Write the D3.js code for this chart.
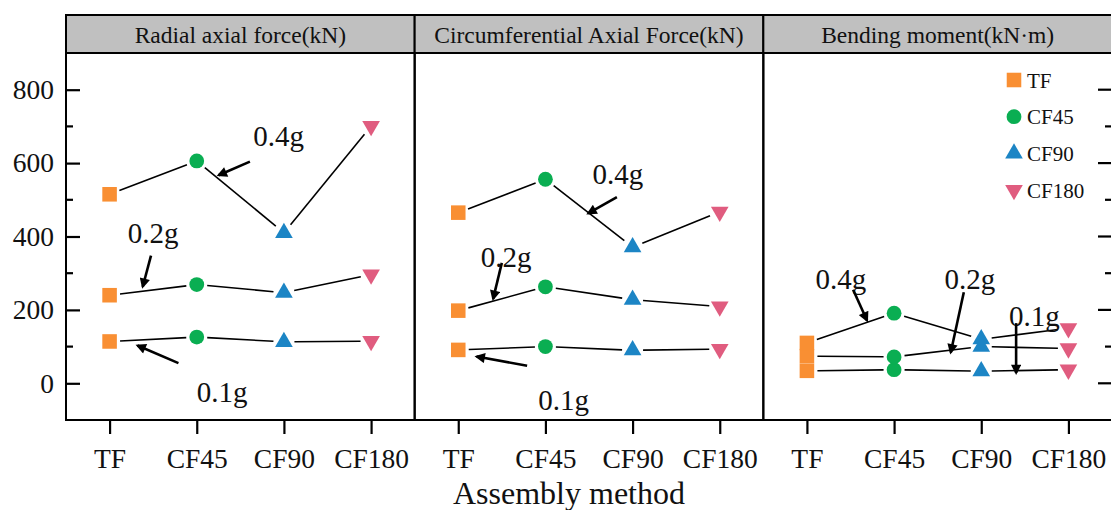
<!DOCTYPE html>
<html><head><meta charset="utf-8">
<script src="https://cdn.jsdelivr.net/npm/d3@7"></script>
<style>body{margin:0;background:#fff}svg{display:block}text{font-family:"Liberation Serif","Times New Roman",serif;fill:#111}</style>
</head><body><svg id="c" width="1111" height="510"></svg>
<script>
const categories = ["TF","CF45","CF90","CF180"];
const panelTitles = ["Radial axial force(kN)","Circumferential Axial Force(kN)","Bending moment(kN\u00b7m)"];
const levels = ["0.1g","0.2g","0.4g"];
const radial01 = [114,126,113,115];
const radial02 = [240,269,247,296];
const radial04 = [515,606,410,701];
const circ01 = [91,100,90,93];
const circ02 = [198,263,228,209];
const circ04 = [465,556,371,467];
const bend01 = [34,37,33,37];
const bend02 = [74,72,100,95];
const bend04 = [110,191,120,150];
const yTicks = [0,200,400,600,800];
const yMinorTicks = [100,300,500,700];
const yDomain = [-100,900];
const colors = ["#F98F33","#0AAE52","#1C85C5","#E05C7F"];
// annotations: [panel, label, textIdx, textVal, tailIdx, tailVal, headIdx, headVal]
const annotations = [
  [0,"0.4g",1.94,646,1.61,604,1.25,567],
  [0,"0.2g",0.50,381,0.475,348,0.38,263],
  [0,"0.1g",1.29,-51,0.79,55,0.32,103],
  [1,"0.4g",1.83,542,1.82,507,1.49,463],
  [1,"0.2g",0.55,318,0.50,328,0.40,230],
  [1,"0.1g",1.21,-73,0.79,48,0.21,73],
  [2,"0.4g",0.39,257,0.53,255,0.69,171],
  [2,"0.2g",1.87,258,1.80,248,1.65,84],
  [2,"0.1g",2.61,157,2.40,164,2.40,28]
];
const panelData = [
  [radial01,radial02,radial04],
  [circ01,circ02,circ04],
  [bend01,bend02,bend04]
];

(function(){
const svg = d3.select("#c");
const mLeft = 66, mRight = 1112, mTop = 53, mBottom = 420, headTop = 15;
const pw = (mRight-mLeft)/3;
const y = d3.scaleLinear().domain(yDomain).range([mBottom, mTop]);
const FONT = '"Liberation Serif","Times New Roman",serif';

svg.append("defs").append("marker").attr("id","ah").attr("viewBox","0 0 10 10")
  .attr("refX",8).attr("refY",5).attr("markerWidth",5).attr("markerHeight",4)
  .attr("markerUnits","strokeWidth").attr("orient","auto")
  .append("path").attr("d","M0,0 L10,5 L0,10 Z").attr("fill","#000");

const symTypes = [d3.symbolSquare, d3.symbolCircle, d3.symbolTriangle, d3.symbolTriangle];
const symSizes = [212, 172, 135, 135];
function drawSym(g, ci, cx, cy) {
  g.append("path")
    .attr("d", d3.symbol().type(symTypes[ci]).size(symSizes[ci])())
    .attr("transform", `translate(${cx},${cy})` + (ci===3 ? " rotate(180)" : ""))
    .attr("fill", colors[ci]);
}

panelTitles.forEach((title, p) => {
  const L = mLeft + p*pw;
  const x = d3.scaleLinear().domain([-0.5, 3.5]).range([L, L+pw]);
  const g = svg.append("g");
  g.append("rect").attr("x",L).attr("y",headTop).attr("width",pw).attr("height",mTop-headTop)
    .attr("fill","#c0c0c0").attr("stroke","#000").attr("stroke-width",2);
  g.append("text").attr("x",L+pw/2).attr("y",43).attr("text-anchor","middle")
    .attr("font-size",23.5).text(title);
  g.append("rect").attr("x",L).attr("y",mTop).attr("width",pw).attr("height",mBottom-mTop)
    .attr("fill","none").attr("stroke","#000").attr("stroke-width",2);
  const xa = d3.axisBottom(x).tickValues(d3.range(categories.length))
    .tickFormat(i => categories[i]).tickSize(14).tickSizeOuter(0);
  const ax = g.append("g").attr("transform",`translate(0,${mBottom})`).call(xa);
  ax.select(".domain").remove();
  ax.selectAll("line").attr("stroke","#000").attr("stroke-width",2.2);
  ax.selectAll("text").attr("font-size",27.5).attr("dy",null).attr("y",48)
    .attr("font-family",FONT).attr("fill","#111");

  panelData[p].forEach(vals => {
    for (let i=0;i<vals.length-1;i++){
      const x1=x(i), y1=y(vals[i]), x2=x(i+1), y2=y(vals[i+1]);
      const dx=x2-x1, dy=y2-y1, len=Math.hypot(dx,dy), s=10.5;
      g.append("line").attr("x1",x1+dx/len*s).attr("y1",y1+dy/len*s)
        .attr("x2",x2-dx/len*s).attr("y2",y2-dy/len*s)
        .attr("stroke","#000").attr("stroke-width",1.6);
    }
  });
  panelData[p].forEach(vals => {
    vals.forEach((v,i) => drawSym(g, i, x(i), y(v)));
  });
  annotations.filter(a => a[0]===p).forEach(a => {
    g.append("text").attr("x",x(a[2])).attr("y",y(a[3])).attr("text-anchor","middle")
      .attr("font-size",29).text(a[1]);
    g.append("line").attr("x1",x(a[4])).attr("y1",y(a[5])).attr("x2",x(a[6])).attr("y2",y(a[7]))
      .attr("stroke","#000").attr("stroke-width",2.6).attr("marker-end","url(#ah)");
  });
});

const yl = svg.append("g").attr("transform",`translate(${mLeft},0)`);
const ya = d3.axisLeft(y).tickValues(yTicks).tickSize(-14).tickPadding(12).tickSizeOuter(0);
yl.call(ya);
yl.select(".domain").remove();
yl.selectAll("line").attr("stroke","#000").attr("stroke-width",2.2);
yl.selectAll("text").attr("font-size",27.5).attr("font-family",FONT).attr("fill","#111");
yl.selectAll(".minor").data(yMinorTicks).enter().append("line")
  .attr("x1",0).attr("x2",7).attr("y1",d=>y(d)).attr("y2",d=>y(d)).attr("stroke","#000").attr("stroke-width",2.2);
const yr = svg.append("g").attr("transform",`translate(${mRight},0)`);
yr.selectAll(".maj").data(yTicks).enter().append("line")
  .attr("x1",0).attr("x2",-14).attr("y1",d=>y(d)).attr("y2",d=>y(d)).attr("stroke","#000").attr("stroke-width",2.2);
yr.selectAll(".min").data(yMinorTicks).enter().append("line")
  .attr("x1",0).attr("x2",-7).attr("y1",d=>y(d)).attr("y2",d=>y(d)).attr("stroke","#000").attr("stroke-width",2.2);

const leg = svg.append("g").attr("transform","translate(1014,80)");
categories.forEach((c,i) => {
  const gy = i*36.7;
  drawSym(leg, i, 0, gy);
  leg.append("text").attr("x",13).attr("y",gy+7.5).attr("font-size",21).text(c);
});

svg.append("text").attr("x",569).attr("y",504).attr("text-anchor","middle")
  .attr("font-size",32).text("Assembly method");
})();
</script></body></html>
